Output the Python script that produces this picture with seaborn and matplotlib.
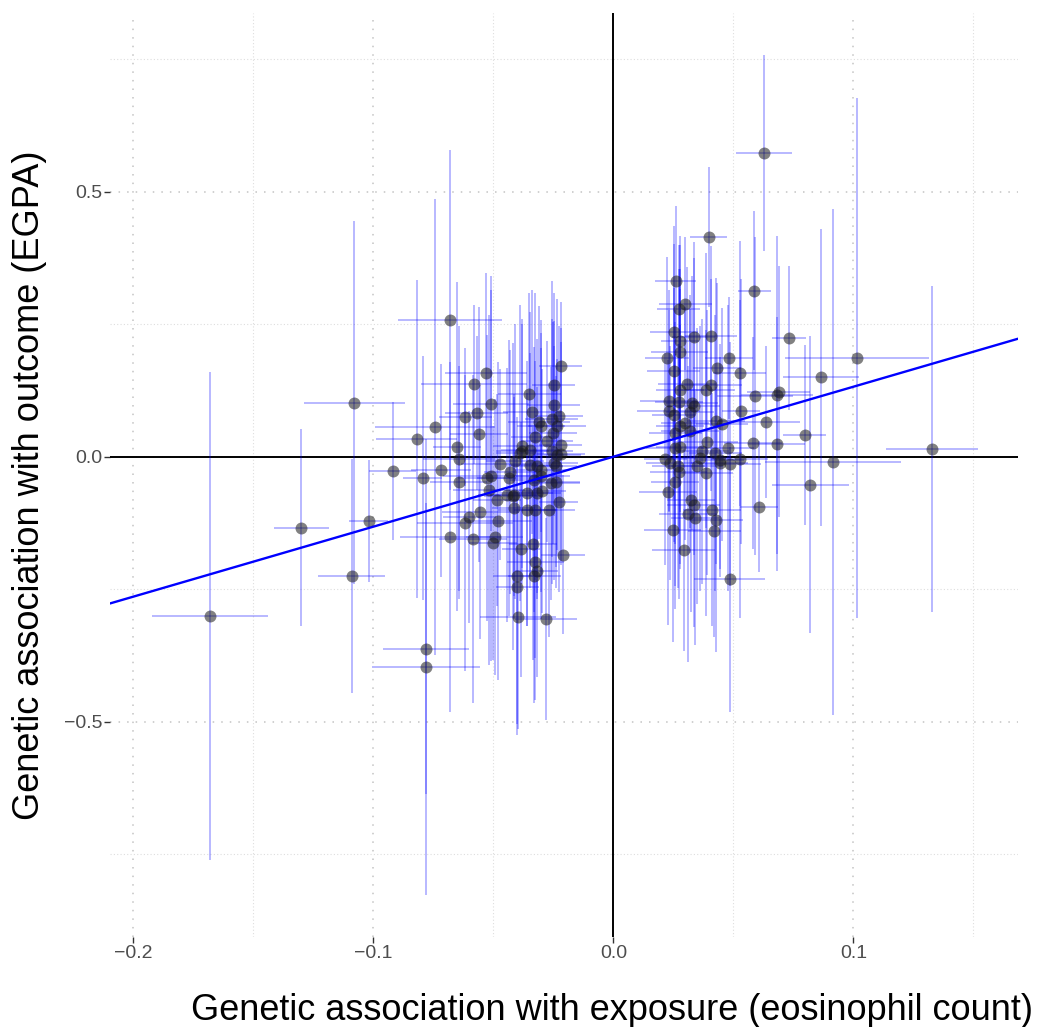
import numpy as np
import pandas as pd
import matplotlib
matplotlib.use("Agg")
import matplotlib.pyplot as plt
import seaborn as sns

# ---------------- data ----------------
# negative-exposure instruments
bx_left = [-0.168, -0.130, -0.108, -0.109, -0.102, -0.092, -0.082, -0.0745, -0.068, -0.0795,
           -0.072, -0.078, -0.078, -0.068, -0.0645, -0.0645, -0.065, -0.0585, -0.0554, -0.060,
           -0.062, -0.0495, -0.050, -0.048, -0.0474, -0.051, -0.0526, -0.052, -0.0485, -0.0436,
           -0.043, -0.0415, -0.042, -0.0385, -0.0336, -0.0325, -0.032, -0.033, -0.040, -0.040,
           -0.0397, -0.028, -0.021, -0.0228, -0.024, -0.027, -0.0325, -0.036, -0.0415, -0.036,
           -0.0297, -0.030, -0.0346, -0.038, -0.0235, -0.022, -0.0443, -0.032, -0.053, -0.058,
           -0.051, -0.057, -0.0617, -0.056, -0.022, -0.0249, -0.035, -0.0249, -0.034, -0.0228,
           -0.0256, -0.031, -0.030, -0.0235, -0.0325, -0.0276, -0.038, -0.0256, -0.022, -0.041,
           -0.0249, -0.032, -0.025, -0.0346, -0.030, -0.024, -0.033, -0.026, -0.0388]
by_left = [-0.300, -0.134, 0.102, -0.225, -0.121, -0.027, 0.033, 0.056, 0.258, -0.040,
           -0.026, -0.362, -0.396, -0.151, -0.004, -0.048, 0.019, -0.155, -0.104, -0.113,
           -0.125, -0.152, -0.163, -0.121, -0.014, -0.036, -0.040, -0.062, -0.081, -0.040,
           -0.029, -0.097, -0.075, -0.175, -0.164, -0.198, -0.215, -0.225, -0.225, -0.245,
           -0.303, -0.306, -0.185, -0.0855, -0.047, -0.101, -0.100, -0.100, -0.072, -0.069,
           -0.065, -0.037, -0.015, 0.010, 0.004, 0.023, -0.072, -0.069, 0.157, 0.137,
           0.100, 0.082, 0.075, 0.042, 0.172, 0.136, 0.119, 0.098, 0.085, 0.077,
           0.071, 0.065, 0.058, 0.057, 0.038, 0.029, 0.021, 0.010, 0.006, -0.009,
           -0.012, -0.018, 0.045, 0.013, -0.025, -0.018, -0.043, -0.050, 0.007]
sx_left = [0.024, 0.0115, 0.021, 0.014, 0.008, 0.0097, 0.017, 0.025, 0.0217, 0.008,
           0.0125, 0.018, 0.0225, 0.021, 0.015, 0.012, 0.010, 0.014, 0.016, 0.011,
           0.020, 0.012, 0.010, 0.014, 0.016, 0.020, 0.012, 0.015, 0.010, 0.013,
           0.011, 0.009, 0.012, 0.008, 0.010, 0.012, 0.009, 0.011, 0.010, 0.009,
           0.016, 0.013, 0.009, 0.008, 0.010, 0.011, 0.009, 0.012, 0.010, 0.011,
           0.010, 0.012, 0.009, 0.011, 0.010, 0.009, 0.012, 0.010, 0.017, 0.022,
           0.016, 0.013, 0.011, 0.012, 0.009, 0.009, 0.013, 0.011, 0.012, 0.010,
           0.011, 0.013, 0.010, 0.012, 0.010, 0.011, 0.012, 0.009, 0.010, 0.012,
           0.010, 0.011, 0.010, 0.012, 0.011, 0.009, 0.010, 0.012, 0.010]
sy_left = [0.46, 0.186, 0.342, 0.22, 0.115, 0.13, 0.30, 0.43, 0.32, 0.23,
           0.20, 0.275, 0.43, 0.33, 0.25, 0.22, 0.31, 0.31, 0.24, 0.20,
           0.28, 0.26, 0.22, 0.30, 0.18, 0.35, 0.27, 0.33, 0.20, 0.26,
           0.23, 0.21, 0.29, 0.24, 0.22, 0.26, 0.20, 0.24, 0.30, 0.26,
           0.21, 0.19, 0.15, 0.17, 0.20, 0.24, 0.28, 0.22, 0.19, 0.25,
           0.23, 0.27, 0.21, 0.25, 0.18, 0.22, 0.24, 0.20, 0.19, 0.15,
           0.24, 0.145, 0.13, 0.24, 0.12, 0.12, 0.19, 0.21, 0.23, 0.17,
           0.26, 0.22, 0.20, 0.24, 0.27, 0.19, 0.23, 0.25, 0.21, 0.26,
           0.22, 0.24, 0.21, 0.26, 0.23, 0.19, 0.25, 0.22, 0.28]

# positive-exposure instruments
bx_right = [0.0629, 0.0397, 0.026, 0.0588, 0.030, 0.0272, 0.0251, 0.0279, 0.0335, 0.0407,
            0.0733, 0.0224, 0.0276, 0.048, 0.0432, 0.0251, 0.0526, 0.0307, 0.0408, 0.0387,
            0.0276, 0.059, 0.0689, 0.068, 0.023, 0.0272, 0.0335, 0.032, 0.023, 0.0251,
            0.0533, 0.0638, 0.0429, 0.0453, 0.0279, 0.032, 0.0258, 0.0582, 0.068, 0.039,
            0.0476, 0.0279, 0.0425, 0.0217, 0.0526, 0.0446, 0.037, 0.0237, 0.0272, 0.0387,
            0.0443, 0.0485, 0.0349, 0.0258, 0.0228, 0.0324, 0.0335, 0.0311, 0.0341, 0.0411,
            0.0429, 0.0247, 0.0421, 0.0293, 0.0608, 0.0485, 0.1328, 0.0915, 0.082, 0.1014,
            0.0865, 0.0797, 0.0328, 0.030, 0.0258, 0.027, 0.036]
by_right = [0.573, 0.414, 0.332, 0.313, 0.289, 0.279, 0.235, 0.219, 0.225, 0.228,
            0.224, 0.186, 0.197, 0.187, 0.167, 0.161, 0.157, 0.137, 0.136, 0.125,
            0.125, 0.115, 0.123, 0.117, 0.105, 0.104, 0.095, 0.085, 0.087, 0.079,
            0.086, 0.065, 0.068, 0.061, 0.057, 0.048, 0.045, 0.026, 0.024, 0.027,
            0.016, 0.019, 0.007, -0.004, -0.004, -0.007, 0.010, -0.012, -0.028, -0.031,
            -0.011, -0.014, -0.018, -0.047, -0.067, -0.082, -0.092, -0.108, -0.116, -0.100,
            -0.119, -0.139, -0.140, -0.176, -0.094, -0.231, 0.015, -0.010, -0.053, 0.186,
            0.150, 0.041, 0.101, 0.063, 0.016, -0.018, -0.003]
sx_right = [0.0117, 0.0078, 0.0085, 0.007, 0.011, 0.009, 0.010, 0.008, 0.009, 0.011,
            0.007, 0.009, 0.012, 0.010, 0.010, 0.011, 0.011, 0.012, 0.013, 0.012,
            0.010, 0.016, 0.013, 0.015, 0.012, 0.010, 0.011, 0.010, 0.013, 0.009,
            0.008, 0.014, 0.012, 0.011, 0.010, 0.012, 0.011, 0.012, 0.012, 0.013,
            0.011, 0.010, 0.011, 0.009, 0.012, 0.010, 0.011, 0.010, 0.012, 0.011,
            0.012, 0.013, 0.011, 0.010, 0.012, 0.010, 0.011, 0.012, 0.010, 0.012,
            0.011, 0.012, 0.011, 0.013, 0.008, 0.0147, 0.019, 0.0285, 0.016, 0.030,
            0.016, 0.009, 0.011, 0.010, 0.012, 0.011, 0.012]
sy_right = [0.185, 0.132, 0.14, 0.15, 0.125, 0.12, 0.20, 0.18, 0.18, 0.17,
            0.136, 0.19, 0.22, 0.115, 0.16, 0.24, 0.25, 0.22, 0.20, 0.26,
            0.23, 0.30, 0.236, 0.30, 0.21, 0.25, 0.28, 0.22, 0.19, 0.24,
            0.25, 0.143, 0.27, 0.22, 0.26, 0.23, 0.21, 0.20, 0.24, 0.25,
            0.27, 0.23, 0.26, 0.20, 0.30, 0.22, 0.25, 0.22, 0.24, 0.27,
            0.20, 0.23, 0.26, 0.24, 0.25, 0.21, 0.23, 0.28, 0.24, 0.22,
            0.25, 0.21, 0.20, 0.19, 0.123, 0.25, 0.307, 0.478, 0.28, 0.49,
            0.28, 0.17, 0.24, 0.22, 0.26, 0.23, 0.25]

ivw_slope = 1.32  # slope of the fitted line through the origin

x_ticks = [-0.2, -0.1, 0.0, 0.1]
x_tick_labels = ["\u22120.2", "\u22120.1", "0.0", "0.1"]
y_ticks = [-0.5, 0.0, 0.5]
y_tick_labels = ["\u22120.5", "0.0", "0.5"]
x_minor = [-0.15, -0.05, 0.05, 0.15]
y_minor = [-0.75, -0.25, 0.25, 0.75]
x_title = "Genetic association with exposure (eosinophil count)"
y_title = "Genetic association with outcome (EGPA)"

df = pd.DataFrame({
    "bx": bx_left + bx_right,
    "by": by_left + by_right,
    "sx": sx_left + sx_right,
    "sy": sy_left + sy_right,
})

# ---------------- figure ----------------
sns.set_theme(style="white")
plt.rcParams["font.family"] = ["Liberation Sans", "DejaVu Sans"]

fig = plt.figure(figsize=(10.43, 10.27), dpi=100)
ax = fig.add_axes([110 / 1043, 1 - 937 / 1027, 908 / 1043, 924 / 1027])

# grid
ax.set_xticks(x_ticks)
ax.set_xticklabels(x_tick_labels)
ax.set_yticks(y_ticks)
ax.set_yticklabels(y_tick_labels)
ax.set_xticks(x_minor, minor=True)
ax.set_yticks(y_minor, minor=True)
ax.grid(True, which="major", color="#c4c4c4", linestyle=(0, (1.0, 4.6)), linewidth=1.1)
ax.grid(True, which="minor", color="#dedede", linestyle=(0, (1.0, 2.0)), linewidth=0.8)
ax.set_axisbelow(True)

# zero lines
ax.axhline(0, color="black", linewidth=1.4, zorder=1.5)
ax.axvline(0, color="black", linewidth=1.4, zorder=1.5)

# error bars
ax.errorbar(df["bx"], df["by"], xerr=df["sx"], yerr=df["sy"], fmt="none",
            ecolor=(0, 0, 1, 0.3), elinewidth=1.3, capsize=0, zorder=2)

# points
sns.scatterplot(data=df, x="bx", y="by", ax=ax, color="#1a1a1a", alpha=0.55,
                s=74, linewidth=0, zorder=3)

# fitted line through origin
ax.axline((0, 0), slope=ivw_slope, color="blue", linewidth=1.7, zorder=4)

ax.set_xlim(-0.2097, 0.1686)
ax.set_ylim(-0.906, 0.837)

for s in ax.spines.values():
    s.set_visible(False)

ax.tick_params(axis="both", which="major", length=4, width=1.0, color="#333333",
               labelsize=14, labelcolor="#4d4d4d", pad=1.5,
               bottom=True, left=True)
ax.tick_params(axis="both", which="minor", length=0)

ax.set_xlabel(x_title, fontsize=26, color="black")
ax.set_ylabel(y_title, fontsize=26, color="black")
ax.xaxis.set_label_coords((612 - 110) / 908, (937 - 1010) / 924)
ax.xaxis.label.set_va("center")
ax.yaxis.set_label_coords((30 - 110) / 908, (937 - 485) / 924)
ax.yaxis.label.set_va("center")

fig.savefig("out.png", dpi=100)
